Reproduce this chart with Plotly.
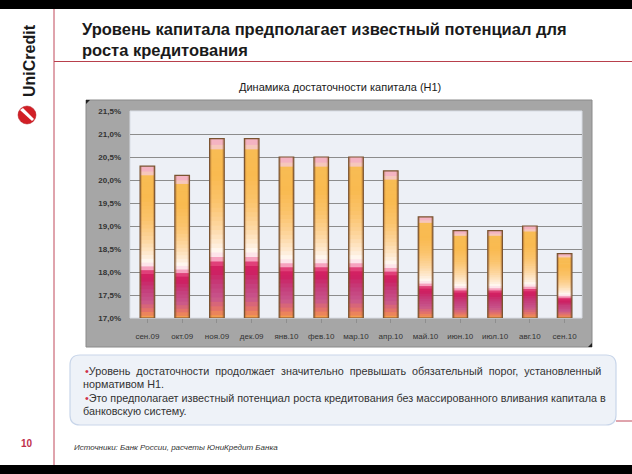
import plotly.graph_objects as go

# ---- data ----
categories = ["сен.09", "окт.09", "ноя.09", "дек.09", "янв.10", "фев.10", "мар.10",
              "апр.10", "май.10", "июн.10", "июл.10", "авг.10", "сен.10"]
h1_values = [20.3, 20.1, 20.9, 20.9, 20.5, 20.5, 20.5, 20.2, 19.2, 18.9, 18.9, 19.0, 18.4]
y_ticks = [17.0, 17.5, 18.0, 18.5, 19.0, 19.5, 20.0, 20.5, 21.0, 21.5]
y_tick_labels = ["17,0%", "17,5%", "18,0%", "18,5%", "19,0%", "19,5%",
                 "20,0%", "20,5%", "21,0%", "21,5%"]
axis_min = 17.0

title_text = "Уровень капитала предполагает известный потенциал для<br>роста кредитования"
chart_title = "Динамика достаточности капитала (Н1)"
bullet_1a = "Уровень достаточности продолжает значительно превышать обязательный порог, установленный"
bullet_1b = "нормативом Н1."
bullet_2a = "Это предполагает известный потенциал роста кредитования без массированного вливания капитала в"
bullet_2b = "банковскую систему."
source_text = "Источники: Банк России, расчеты ЮниКредит Банка"

# ---- style: gradient stops (fraction of bar height from bottom, rgb) ----
stops = [
    (0.00, (245, 168, 70)),
    (0.05, (232, 120, 100)),
    (0.12, (200, 86, 140)),
    (0.20, (196, 60, 122)),
    (0.27, (206, 30, 96)),
    (0.305, (214, 36, 100)),
    (0.325, (240, 110, 156)),
    (0.35, (252, 214, 226)),
    (0.38, (255, 248, 244)),
    (0.42, (254, 236, 214)),
    (0.52, (253, 214, 160)),
    (0.65, (251, 196, 110)),
    (0.80, (249, 186, 80)),
    (0.94, (248, 188, 84)),
    (0.965, (246, 200, 200)),
    (1.00, (243, 168, 190)),
]


def interp(f):
    for (a, ca), (b, cb) in zip(stops[:-1], stops[1:]):
        if a <= f <= b:
            t = 0 if b == a else (f - a) / (b - a)
            c = [round(ca[i] + t * (cb[i] - ca[i])) for i in range(3)]
            return f"rgb({c[0]},{c[1]},{c[2]})"
    return "rgb(243,168,190)"


n_bands = 40
fig = go.Figure()
bar_w = 0.42
for k in range(n_bands):
    f0, f1 = k / n_bands, (k + 1) / n_bands
    f0x = max(0.0, f0 - 0.4 / n_bands)  # overlap downward to hide seams
    fig.add_trace(go.Bar(
        x=categories,
        base=[axis_min + f0x * (v - axis_min) for v in h1_values],
        y=[(f1 - f0x) * (v - axis_min) for v in h1_values],
        marker=dict(color=interp((f0 + f1) / 2), line=dict(width=0)),
        width=bar_w, hoverinfo="skip", showlegend=False,
    ))
# side shading (darker left/right edges)
for off in (-bar_w / 2, bar_w / 2 - 0.05):
    fig.add_trace(go.Bar(
        x=categories, base=[axis_min] * len(h1_values),
        y=[v - axis_min for v in h1_values],
        marker=dict(color="rgba(140,80,30,0.3)", line=dict(width=0)),
        width=0.05, offset=off, hoverinfo="skip", showlegend=False,
    ))
# outline
fig.add_trace(go.Bar(
    x=categories,
    base=[axis_min] * len(h1_values),
    y=[v - axis_min for v in h1_values],
    marker=dict(color="rgba(0,0,0,0)", line=dict(width=1.2, color="#7a5330")),
    width=bar_w, showlegend=False,
    hovertemplate="%{x}: %{customdata:.1f}%<extra></extra>",
    customdata=h1_values,
))

W, H = 632, 474
L, R, T, B = 130, 582, 111, 318


def px_x(x):
    return (x - L) / (R - L)


def px_y(y):
    return (B - y) / (B - T)


shapes = [
    dict(type="rect", xref="paper", yref="paper", x0=px_x(-10), x1=px_x(650),
         y0=px_y(9), y1=px_y(-10), fillcolor="black", line=dict(width=0), layer="above"),
    dict(type="rect", xref="paper", yref="paper", x0=px_x(-10), x1=px_x(650),
         y0=px_y(490), y1=px_y(465), fillcolor="black", line=dict(width=0), layer="above"),
]

# grey chart frame
shapes.append(dict(type="rect", xref="paper", yref="paper",
                   x0=px_x(86), x1=px_x(592), y0=px_y(347), y1=px_y(100),
                   fillcolor="#a6a6a6", line=dict(color="#8a8a8a", width=1), layer="below"))
# plot area background
shapes.append(dict(type="rect", xref="paper", yref="paper", x0=0, x1=1, y0=0, y1=1,
                   fillcolor="#edf0f6", line=dict(color="#d8dce4", width=1), layer="below"))
for (cx, cy, dx, dy) in [(86, 100, 4, 4), (592, 347, -4, -4)]:
    shapes.append(dict(type="path", xref="paper", yref="paper",
                       path=f"M {px_x(cx)} {px_y(cy)} L {px_x(cx + dx)} {px_y(cy)} L {px_x(cx)} {px_y(cy + dy)} Z",
                       fillcolor="#202020", line=dict(width=0)))
# vertical red line
shapes.append(dict(type="line", xref="paper", yref="paper",
                   x0=px_x(54), x1=px_x(54), y0=px_y(465), y1=px_y(9),
                   line=dict(color="#c0485a", width=1)))
# horizontal red line under title
shapes.append(dict(type="line", xref="paper", yref="paper",
                   x0=px_x(54), x1=px_x(632), y0=px_y(61.5), y1=px_y(61.5),
                   line=dict(color="#b8404c", width=1)))
# text box with rounded corners
bx0, bx1, by0, by1, r = 70, 616, 355, 425, 10
path = (f"M {px_x(bx0 + r)} {px_y(by0)} L {px_x(bx1 - r)} {px_y(by0)} "
        f"Q {px_x(bx1)} {px_y(by0)} {px_x(bx1)} {px_y(by0 + r)} "
        f"L {px_x(bx1)} {px_y(by1 - r)} Q {px_x(bx1)} {px_y(by1)} {px_x(bx1 - r)} {px_y(by1)} "
        f"L {px_x(bx0 + r)} {px_y(by1)} Q {px_x(bx0)} {px_y(by1)} {px_x(bx0)} {px_y(by1 - r)} "
        f"L {px_x(bx0)} {px_y(by0 + r)} Q {px_x(bx0)} {px_y(by0)} {px_x(bx0 + r)} {px_y(by0)} Z")
shapes.append(dict(type="path", xref="paper", yref="paper", path=path,
                   fillcolor="#eef2f8", line=dict(color="#c9d6ea", width=1.2)))
shapes.append(dict(type="line", xref="paper", yref="paper",
                   x0=px_x(616), x1=px_x(632), y0=px_y(421), y1=px_y(421),
                   line=dict(color="#c0485a", width=1)))
# logo circle
shapes.append(dict(type="circle", xref="paper", yref="paper",
                   x0=px_x(18), x1=px_x(36), y0=px_y(124), y1=px_y(106),
                   fillcolor="#d21f26", line=dict(color="#b01a20", width=0.5)))
shapes.append(dict(type="path", xref="paper", yref="paper",
                   path=f"M {px_x(20)} {px_y(110)} L {px_x(23)} {px_y(108)} L {px_x(34)} {px_y(119)} L {px_x(32)} {px_y(121)} Z",
                   fillcolor="white", line=dict(width=0)))

annotations = [
    dict(text="<b>" + title_text.replace("<br>", "</b><br><b>") + "</b>", xref="paper", yref="paper",
         x=px_x(80), y=px_y(18), xanchor="left", yanchor="top", align="left", showarrow=False,
         font=dict(family="Liberation Sans, Arial", size=16.5, color="#1a1a1a")),
    dict(text=chart_title, xref="paper", yref="paper", x=px_x(340), y=px_y(87),
         xanchor="center", yanchor="middle", showarrow=False,
         font=dict(family="Liberation Sans, Arial", size=11, color="#1a1a1a")),
    dict(text="<b>UniCredit</b>", xref="paper", yref="paper", x=px_x(29), y=px_y(61),
         xanchor="center", yanchor="middle", textangle=-90, showarrow=False,
         font=dict(family="Liberation Sans, Arial", size=16, color="#1a1a1a")),
    dict(text="<b>10</b>", xref="paper", yref="paper", x=px_x(27), y=px_y(443),
         xanchor="center", yanchor="middle", showarrow=False,
         font=dict(family="Liberation Sans, Arial", size=10, color="#c0304a")),
    dict(text="<i>" + source_text + "</i>", xref="paper", yref="paper", x=px_x(72), y=px_y(447),
         xanchor="left", yanchor="middle", showarrow=False,
         font=dict(family="Liberation Sans, Arial", size=8, color="#333333")),
]
body_font = dict(family="Liberation Sans, Arial", size=10.8, color="#333333")
bullet = "<span style='color:#d0304a'>•</span>"
line1 = bullet_1a.replace(" ", " \u00a0")
lines = [
    (bullet + line1, 371, 83),
    (bullet_1b, 384, 81),
    (bullet + bullet_2a, 398, 83),
    (bullet_2b, 410.5, 81),
]
for txt, yy, xx in lines:
    annotations.append(dict(text=txt, xref="paper", yref="paper", x=px_x(xx), y=px_y(yy),
                            xanchor="left", yanchor="middle", showarrow=False, font=body_font))

fig.update_layout(
    width=W, height=H,
    margin=dict(l=L, r=W - R, t=T, b=H - B),
    barmode="overlay",
    paper_bgcolor="white",
    plot_bgcolor="#edf0f6",
    shapes=shapes,
    annotations=annotations,
    xaxis=dict(
        type="category", showgrid=False, zeroline=False,
        ticks="outside", ticklen=4, tickcolor="#8e8e8e",
        tickfont=dict(family="Liberation Sans, Arial", size=8, color="#333333"),
        ticklabelstandoff=6, showline=False,
    ),
    yaxis=dict(
        range=[17.0, 21.5], tickvals=y_ticks, ticktext=y_tick_labels,
        showgrid=True, gridcolor="#8c8c8c", gridwidth=1, zeroline=False,
        tickfont=dict(family="Liberation Sans, Arial", size=8, color="#333333", weight="bold"),
        ticks="", ticklabelstandoff=8, showline=False,
    ),
    font=dict(family="Liberation Sans, Arial"),
)

fig.write_html("out.html", config={"displayModeBar": False},
               post_script="document.body.style.margin='0';")
